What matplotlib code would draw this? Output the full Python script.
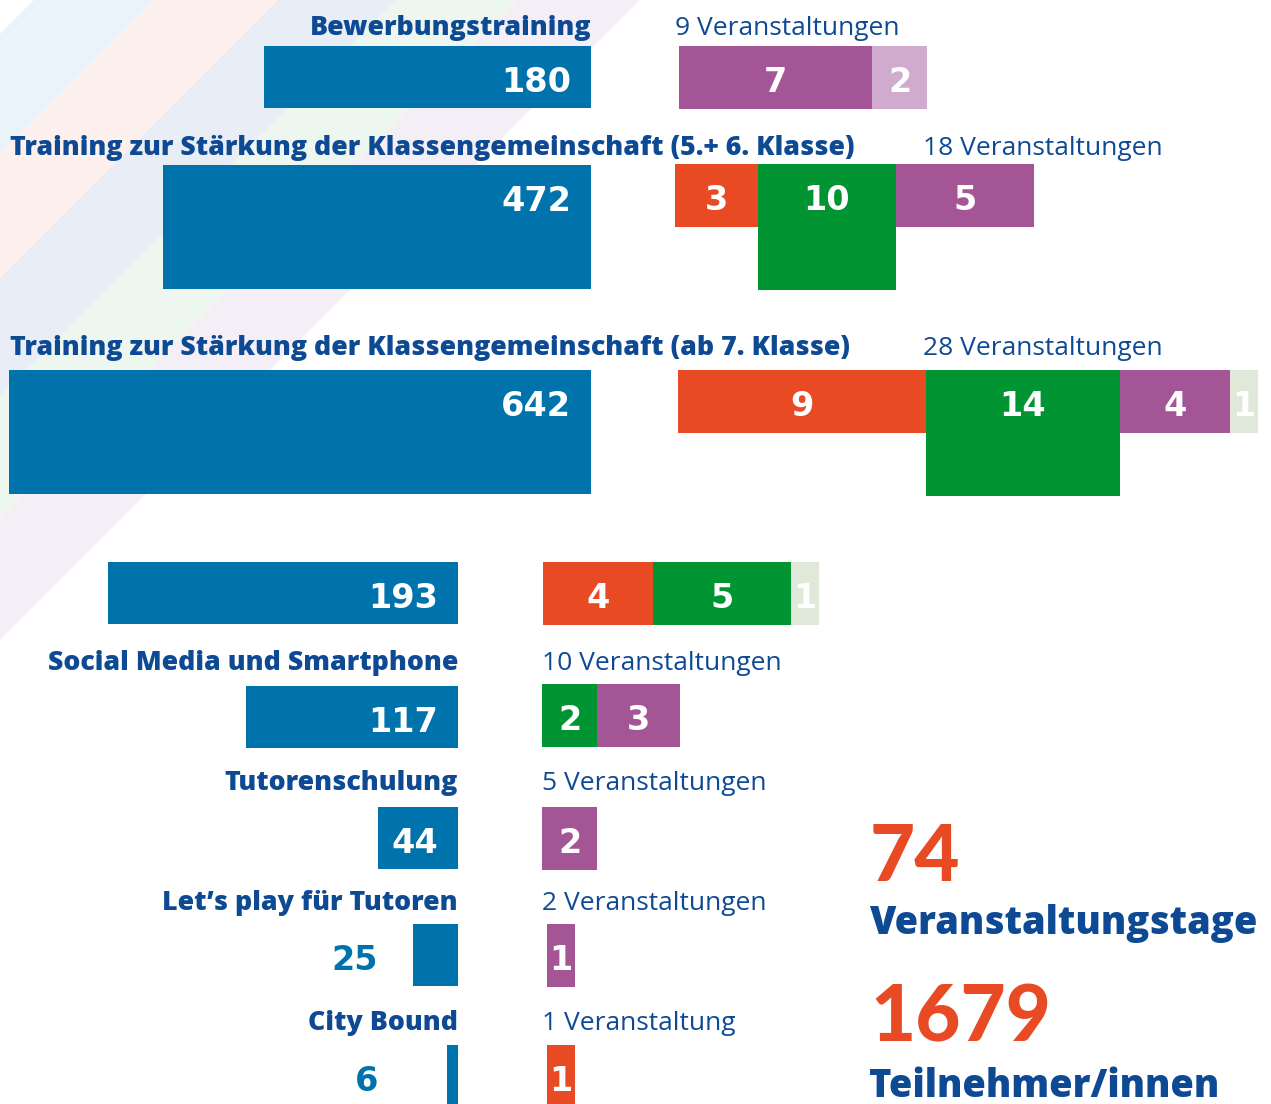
import matplotlib
matplotlib.use("Agg")
import matplotlib.pyplot as plt
from matplotlib.patches import Polygon

# ---------------- data ----------------
categories = [
    "Bewerbungstraining",
    "Training zur Stärkung der Klassengemeinschaft (5.+ 6. Klasse)",
    "Training zur Stärkung der Klassengemeinschaft (ab 7. Klasse)",
    "",
    "Social Media und Smartphone",
    "Tutorenschulung",
    "Let’s play für Tutoren",
    "City Bound",
]
participants = [180, 472, 642, 193, 117, 44, 25, 6]
events_red = [0, 3, 9, 4, 0, 0, 0, 1]
events_green = [0, 10, 14, 5, 2, 0, 0, 0]
events_purple = [7, 5, 4, 0, 3, 2, 1, 0]
events_lightpurple = [2, 0, 0, 0, 0, 0, 0, 0]
events_lightgreen = [0, 0, 1, 1, 0, 0, 0, 0]
total_days_label = "Veranstaltungstage"
total_people_label = "Teilnehmer/innen"

# ---------------- styles / layout ----------------
W, H = 1271, 1104
BLUE = "#0073ad"
NAVY = "#0e4a94"
RED = "#e84b23"
GREEN = "#009433"
PURPLE = "#a45595"
LPURPLE = "#d0abce"
LGREEN = "#dfe8d9"
seg_series = [(events_red, RED), (events_green, GREEN), (events_purple, PURPLE),
              (events_lightpurple, LPURPLE), (events_lightgreen, LGREEN)]

stripe_bounds = [34, 154, 278, 396, 518, 640]
stripe_colors = ["#eaf3f9", "#fdf0ed", "#e9eef6", "#edf6ef", "#f4eff6"]

bar_top = [46, 165, 370, 562, 686, 807, 924, 1045]
bar_right = [591, 591, 591, 458, 458, 458, 458, 458]
ev_left = [679, 675, 678, 543, 542, 542, 547, 547]
ev_top = [46, 164, 370, 562, 684, 807, 924, 1045]
label_pos = [(591, 35, "right"), (10, 155, "left"), (10, 355, "left"), None,
             (458, 670, "right"), (458, 790, "right"), (458, 910, "right"), (458, 1030, "right")]
ev_label_pos = [(675, 35), (923, 155), (923, 355), (542, 670), (542, 790),
                (542, 910), (542, 1030), None]

BAR_UNIT_H = 62          # single-height participant bar
AREA_PER_PERSON = 112.5  # px^2
DOUBLE_BAR_MIN = 400
EV_UNIT_H = 63
EV_UNIT_W = 27.6
DOUBLE_EV_MIN = 10
OUTSIDE_X = 378
NUM_PX = 33.5
NUM_FONT = "DejaVu Sans"
LABEL_FONT = "Open Sans"
LABEL_PX = 26.8
EVLABEL_PX = 26.4

def pt(px):
    return px * 72 / 100

fig = plt.figure(figsize=(W / 100, H / 100), dpi=100)
ax = fig.add_axes([0, 0, 1, 1])
ax.set_xlim(0, W)
ax.set_ylim(H, 0)
ax.axis("off")

# background stripes
for b0, b1, c in zip(stripe_bounds[:-1], stripe_bounds[1:], stripe_colors):
    ax.add_patch(Polygon([(b0, 0), (b1, 0), (0, b1), (0, b0)], closed=True,
                         facecolor=c, edgecolor="none", zorder=0))

num_h = 0.73 * NUM_PX

for i, cat in enumerate(categories):
    v = participants[i]
    h = BAR_UNIT_H * (2 if v >= DOUBLE_BAR_MIN else 1)
    w = v * AREA_PER_PERSON / h
    left = bar_right[i] - w
    ax.barh(bar_top[i] + h / 2, w, left=left, height=h, color=BLUE, zorder=2)
    cy = bar_top[i] + BAR_UNIT_H / 2 + 3
    if w > 60:
        ax.text(bar_right[i] - 20, cy + num_h / 2, str(v), ha="right", va="baseline",
                color="white", fontsize=pt(NUM_PX), fontfamily=NUM_FONT,
                fontweight="bold", zorder=3)
    else:
        ax.text(OUTSIDE_X, cy + num_h / 2, str(v), ha="right", va="baseline",
                color=BLUE, fontsize=pt(NUM_PX), fontfamily=NUM_FONT,
                fontweight="bold", zorder=3)
    if label_pos[i] is not None and cat:
        x, yb, ha = label_pos[i]
        ax.text(x, yb, cat, ha=ha, va="baseline", color=NAVY, fontsize=pt(LABEL_PX),
                fontfamily=LABEL_FONT, fontweight="heavy", zorder=3)

    # event segments
    x0 = ev_left[i]
    total = 0
    for series, col in seg_series:
        n = series[i]
        if n == 0:
            continue
        total += n
        sh = EV_UNIT_H * (2 if n >= DOUBLE_EV_MIN else 1)
        sw = n * EV_UNIT_W * EV_UNIT_H / sh
        ax.barh(ev_top[i] + sh / 2, sw, left=x0, height=sh, color=col, zorder=2)
        ax.text(x0 + sw / 2, ev_top[i] + EV_UNIT_H / 2 + 2 + num_h / 2, str(n),
                ha="center", va="baseline", color="white", fontsize=pt(NUM_PX),
                fontfamily=NUM_FONT, fontweight="bold", zorder=3)
        x0 += sw
    if ev_label_pos[i] is not None:
        ex, ey = ev_label_pos[i]
        word = "Veranstaltung" if total == 1 else "Veranstaltungen"
        ax.text(ex, ey, f"{total} {word}", ha="left", va="baseline", color=NAVY,
                fontsize=pt(EVLABEL_PX), fontfamily=LABEL_FONT, zorder=3)

total_events = sum(sum(s) for s, _ in seg_series)
total_people = sum(participants)
ax.text(870, 881, str(total_events), ha="left", va="baseline", color=RED,
        fontsize=pt(78), fontfamily="Lato", fontweight="black")
ax.text(869, 934, total_days_label, ha="left", va="baseline", color=NAVY,
        fontsize=pt(38), fontfamily=LABEL_FONT, fontweight="heavy")
ax.text(870, 1042, str(total_people), ha="left", va="baseline", color=RED,
        fontsize=pt(78), fontfamily="Lato", fontweight="black")
ax.text(869, 1097, total_people_label, ha="left", va="baseline", color=NAVY,
        fontsize=pt(38), fontfamily=LABEL_FONT, fontweight="heavy")

fig.savefig("out.png", dpi=100, facecolor="white")
